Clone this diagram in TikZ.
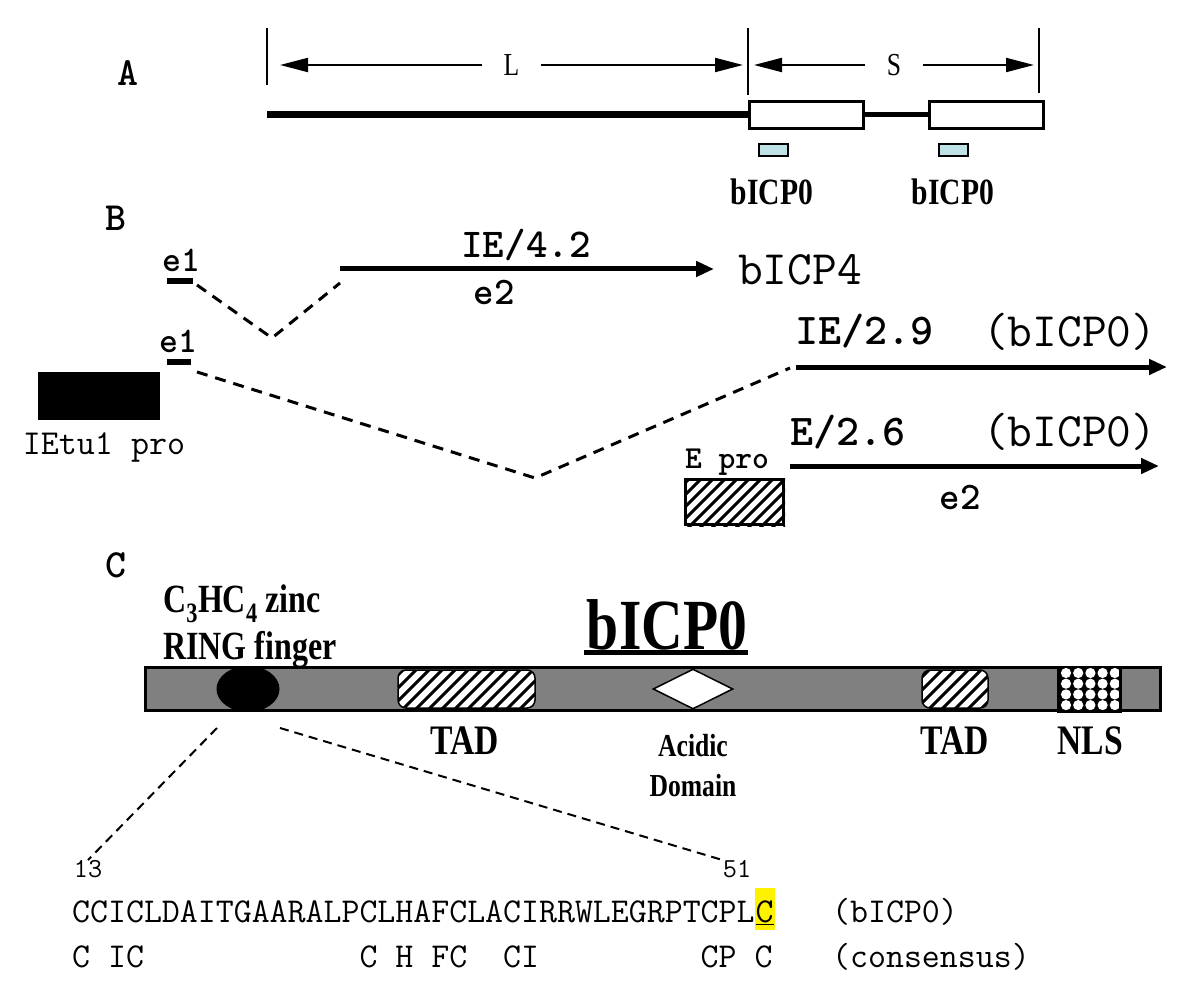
\documentclass[tikz,border=0pt]{standalone}
\usepackage{fontspec}
\newfontfamily\tms[FakeStretch=0.8]{Liberation Serif}
\usetikzlibrary{arrows.meta,shapes.geometric}
\definecolor{lblue}{RGB}{190,226,230}
\definecolor{bargray}{RGB}{128,128,128}
\newcommand\mfont[1]{\fontsize{#1}{#1}\selectfont\ttfamily}
\newcommand\tfont[1]{\fontsize{#1}{#1}\selectfont\tms}
\newcommand\sgap{\hphantom{C}}
\newcommand\hlC{{\fboxsep=1pt\colorbox{yellow}{\rule[-7pt]{0pt}{40pt}\underline{C}}}}
\begin{document}
\begin{tikzpicture}[x=1pt,y=-1pt,
  panel/.style={font=\mfont{40}\bfseries, inner sep=0},
  tick/.style={line width=1.5},
  dim/.style={line width=2, {Triangle[length=28,width=14]}-{Triangle[length=28,width=14]}},
  dimlab/.style={fill=white, font=\tfont{32}, inner xsep=22, inner ysep=2},
  gbox/.style={draw, line width=3, minimum width=114, minimum height=27, inner sep=0, fill=white},
  lbox/.style={draw, line width=1.5, fill=lblue, minimum width=29, minimum height=12, inner sep=0},
  tlab/.style={font=\tfont{37}\bfseries, inner sep=0},
  mlab/.style={inner sep=0},
  bar/.style={fill=black, inner sep=0, minimum height=6},
  arr/.style={line width=5, -{Triangle[length=18,width=15]}},
  dsh/.style={line width=3, dash pattern=on 11pt off 8pt},
  dsh2/.style={line width=2, dash pattern=on 9pt off 6pt},
  hatch/.style={line width=3},
  dom/.style={font=\tfont{42}\bfseries, inner sep=0},
  dom2/.style={font=\tfont{32}\bfseries, inner sep=0}
]
\useasboundingbox[fill=white] (0,0) rectangle (1189,1000);

% ---------------- Panel A
\node[panel] (A) at (128,73) {A};
\coordinate (t1a) at (267,28); \coordinate (t1b) at (267,85);
\coordinate (t2a) at (748,28); \coordinate (t2b) at (748,95);
\coordinate (t3a) at (1039,28); \coordinate (t3b) at (1039,93);
\draw[tick] (t1a) -- (t1b);
\draw[tick] (t2a) -- (t2b);
\draw[tick] (t3a) -- (t3b);
\coordinate (Ll) at (280,65); \coordinate (Lr) at (743,65);
\coordinate (Sl) at (754,65); \coordinate (Sr) at (1034,65);
\draw[dim] (Ll) -- node[dimlab] (Llab) {L} (Lr);
\draw[dim] (Sl) -- node[dimlab] (Slab) {S} (Sr);
\node[gbox] (b1) at (806.5,115) {};
\node[gbox] (b2) at (986.5,115) {};
\coordinate (g0) at (267,115);
\draw[line width=7] (g0) -- (b1.west);
\draw[line width=5] (b1.east) -- (b2.west);
\node[lbox] (m1) at (773.5,150) {};
\node[lbox] (m2) at (953.5,150) {};
\node[tlab] (p1) at (772,192) {bICP0};
\node[tlab] (p2) at (953,192) {bICP0};

% ---------------- Panel B
\node[panel] (B) at (116,218) {B};
\node[mlab, font=\mfont{36}\bfseries] (e1a) at (181,260) {e1};
\node[bar, minimum width=26] (x1) at (180,281) {};
\coordinate (d1a) at (197,285); \coordinate (d1b) at (272,338); \coordinate (d1c) at (340,283);
\draw[dsh] (d1a) -- (d1b) -- (d1c);
\coordinate (r1s) at (340,269); \coordinate (r1e) at (714,269);
\draw[arr] (r1s) -- (r1e);
\node[mlab, font=\mfont{41}\bfseries] (ie42) at (526,245) {IE/4.2};
\node[mlab, font=\mfont{39}\bfseries] (e2a) at (494,292) {e2};
\node[mlab, font=\mfont{48}, anchor=west] (icp4) at (738,270) {bICP4};

\node[mlab, font=\mfont{36}\bfseries] (e1b) at (178,341) {e1};
\node[bar, minimum width=24] (x2) at (179,362) {};
\node[fill=black, minimum width=122, minimum height=48, inner sep=0] (ietu) at (99,396) {};
\node[mlab, font=\mfont{35}] (ietul) at (104,447) {IEtu1 pro};
\coordinate (d2a) at (197,372); \coordinate (d2b) at (535,478); \coordinate (d2c) at (790,368);
\draw[dsh] (d2a) -- (d2b) -- (d2c);

\coordinate (r2s) at (796,367); \coordinate (r2e) at (1167,367);
\draw[arr] (r2s) -- (r2e);
\node[mlab, font=\mfont{44}\bfseries, anchor=west] (ie29) at (795,331) {IE/2.9};
\node[mlab, font=\mfont{48}, anchor=west] (icp0a) at (983,332) {(bICP0)};

\coordinate (r3s) at (790,466); \coordinate (r3e) at (1159,466);
\draw[arr] (r3s) -- (r3e);
\node[mlab, font=\mfont{44}\bfseries, anchor=west] (e26) at (790,432) {E/2.6};
\node[mlab, font=\mfont{48}, anchor=west] (icp0b) at (983,432) {(bICP0)};
\node[mlab, font=\mfont{32}\bfseries] (epro) at (727,462) {E pro};
\begin{scope}
  \clip (684,478) rectangle (785,526);
  \foreach \x in {640,652,...,790} \draw[hatch] (\x,528) -- ++(52,-52);
\end{scope}
\node[draw, line width=3, minimum width=98, minimum height=45, inner sep=0] (eprobox) at (734.5,502) {};
\node[mlab, font=\mfont{39}\bfseries] (e2b) at (960,497) {e2};

% ---------------- Panel C
\node[panel] (C) at (116,565) {C};
\node[mlab, font=\tfont{40}\bfseries, anchor=west] (ring1) at (163,604) {C\textsubscript{3}HC\textsubscript{4} zinc};
\node[mlab, font=\tfont{40}\bfseries, anchor=west] (ring2) at (163,650) {RING finger};
\node[mlab, font=\tfont{72}\bfseries] (title) at (667,625) {bICP0};
\draw[line width=5] (584,652) -- (748,652);

\node[draw, line width=3, fill=bargray, minimum width=1015, minimum height=43, inner sep=0] (barC) at (653,689) {};
\node[ellipse, fill=black, minimum width=63, minimum height=46, inner sep=0] (zinc) at (248,689) {};
\begin{scope}
  \clip[rounded corners=8] (398,670) rectangle (535,708);
  \fill[white] (398,670) rectangle (535,708);
  \foreach \x in {350,363,...,540} \draw[hatch] (\x,710) -- ++(42,-42);
\end{scope}
\draw[line width=1.5, rounded corners=8] (398,670) rectangle (535,708);
\node[diamond, draw, line width=1.5, fill=white, minimum width=80, minimum height=40, inner sep=0] (acid) at (693,689) {};
\begin{scope}
  \clip[rounded corners=8] (922,670) rectangle (988,708);
  \fill[white] (922,670) rectangle (988,708);
  \foreach \x in {876,889,...,995} \draw[hatch] (\x,710) -- ++(42,-42);
\end{scope}
\draw[line width=1.5, rounded corners=8] (922,670) rectangle (988,708);
\node[draw, line width=2.5, fill=black, minimum width=60, minimum height=42, inner sep=0] (nls) at (1089,689) {};
\begin{scope}
  \clip (nls.north west) rectangle (nls.south east);
  \foreach \i in {0,1,2,3,4} \foreach \j in {0,1,2,3} \fill[white] (1066+\i*12.2,673+\j*10.7) circle (5.1);
\end{scope}
\draw[line width=2.5] (nls.north west) rectangle (nls.south east);

\node[dom] (tad1) at (465,741) {TAD};
\node[dom2] (acl1) at (693,746) {Acidic};
\node[dom2] (acl2) at (693,786) {Domain};
\node[dom] (tad2) at (955,741) {TAD};
\node[dom] (nlsl) at (1090,741) {NLS};

\node[mlab, font=\mfont{27.5}] (n13) at (88,869) {13};
\node[mlab, font=\mfont{27.5}] (n51) at (737,869) {51};
\coordinate (z1) at (217,728); \coordinate (z2) at (280,728);
\draw[dsh2] (z1) -- (n13.north);
\draw[dsh2] (z2) -- (n51.north west);

\node[mlab, font=\mfont{34.87}, anchor=base west] (seq) at (72,922) {CCICLDAITGAARALPCLHAFCLACIRRWLEGRPTCPL\hlC};
\node[mlab, font=\mfont{34.87}, anchor=base west] (cons) at (72,967) {C\sgap IC\sgap\sgap\sgap\sgap\sgap\sgap\sgap\sgap\sgap\sgap\sgap\sgap C\sgap H\sgap FC\sgap\sgap CI\sgap\sgap\sgap\sgap\sgap\sgap\sgap\sgap\sgap CP\sgap C};
\node[mlab, font=\mfont{34.87}, anchor=base west] (seqlab) at (832,922) {(bICP0)};
\node[mlab, font=\mfont{34.87}, anchor=base west] (conslab) at (832,967) {(consensus)};
\end{tikzpicture}
\end{document}
